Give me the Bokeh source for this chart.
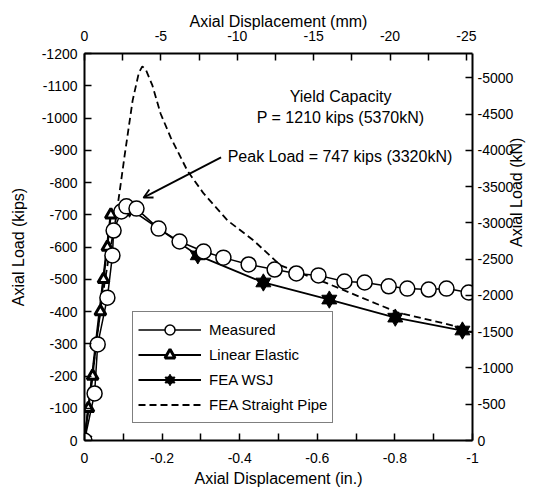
import math
from bokeh.plotting import figure
from bokeh.models import (Range1d, LinearAxis, FixedTicker, Legend, LegendItem,
                          Label, Arrow, OpenHead)
from bokeh.embed import file_html
from bokeh.resources import INLINE

# ---------------- data ----------------
meas_disp = [0, -0.026, -0.034, -0.059, -0.072, -0.075, -0.095, -0.108, -0.134, -0.191,
             -0.245, -0.307, -0.358, -0.423, -0.490, -0.546, -0.603, -0.670, -0.722,
             -0.784, -0.832, -0.887, -0.933, -0.990]
meas_load = [0, -146, -298, -443, -574, -651, -710, -726, -719, -657,
             -617, -586, -567, -546, -530, -518, -512, -493, -490,
             -478, -471, -468, -471, -459]

le_disp = [0, -0.010, -0.021, -0.030, -0.041, -0.049, -0.059, -0.068]
le_load = [0, -100, -200, -300, -400, -500, -600, -700]

wsj_disp = [0, -0.067, -0.116, -0.292, -0.461, -0.631, -0.801, -0.974, -1.0]
wsj_load = [0, -700, -719, -574, -490, -437, -381, -341, -335]
wsj_marked = [True, False, True, True, True, True, True, True, False]

pipe_disp = [0, -0.04, -0.06, -0.08, -0.095, -0.103, -0.124, -0.14, -0.149, -0.158,
             -0.175, -0.196, -0.222, -0.265, -0.307, -0.369, -0.436, -0.505,
             -0.626, -0.807, -0.99]
pipe_load = [0, -400, -550, -682, -810, -880, -1054, -1140, -1160, -1150,
             -1101, -1014, -940, -837, -766, -682, -620, -543,
             -487, -397, -345]

bottom_ticks = [0, -0.2, -0.4, -0.6, -0.8, -1.0]
bottom_labels = ["0", "-0.2", "-0.4", "-0.6", "-0.8", "-1"]
bottom_minor = [-0.1, -0.3, -0.5, -0.7, -0.9]
top_ticks = [0, -5, -10, -15, -20, -25]
top_labels = ["0", "-5", "-10", "-15", "-20", "-25"]
top_minor = [-2.5, -7.5, -12.5, -17.5, -22.5]
left_ticks = [0, -100, -200, -300, -400, -500, -600, -700, -800, -900, -1000, -1100, -1200]
left_labels = ["0", "-100", "-200", "-300", "-400", "-500", "-600", "-700", "-800",
               "-900", "-1000", "-1100", "-1200"]
right_ticks = [0, -500, -1000, -1500, -2000, -2500, -3000, -3500, -4000, -4500, -5000]
right_labels = ["0", "-500", "-1000", "-1500", "-2000", "-2500", "-3000", "-3500",
                "-4000", "-4500", "-5000"]

KIP_TO_KN = 4.448
IN_TO_MM = 25.4
X_MAX = -1.0
Y_MAX = -1200

FONT = "Liberation Sans"

p = figure(width=536, height=490, output_backend="svg", toolbar_location=None,
           x_range=Range1d(0, X_MAX), y_range=Range1d(0, Y_MAX),
           x_axis_location=None, y_axis_location=None,
           min_border_left=84, min_border_right=64, min_border_top=53, min_border_bottom=50)
p.extra_x_ranges = {"mm": Range1d(0, X_MAX * IN_TO_MM)}
p.extra_y_ranges = {"kN": Range1d(0, Y_MAX * KIP_TO_KN)}
p.xgrid.visible = False
p.ygrid.visible = False
p.outline_line_color = None
p.background_fill_color = "white"
p.border_fill_color = "white"


def style_axis(ax, ticks, labels, label_standoff, title_standoff):
    ax.major_label_overrides = {t: l for t, l in zip(ticks, labels)}
    ax.axis_line_width = 2
    ax.axis_line_color = "black"
    ax.major_tick_in = 7
    ax.major_tick_out = 0
    ax.minor_tick_in = 7
    ax.minor_tick_out = 0
    ax.major_tick_line_width = 1.5
    ax.minor_tick_line_width = 1.5
    ax.major_label_text_font = FONT
    ax.major_label_text_font_size = "14px"
    ax.major_label_text_color = "black"
    ax.major_label_standoff = label_standoff
    ax.axis_label_text_font = FONT
    ax.axis_label_text_font_size = "16px"
    ax.axis_label_text_font_style = "normal"
    ax.axis_label_text_color = "black"
    ax.axis_label_standoff = title_standoff


bx = LinearAxis(axis_label="Axial Displacement (in.)",
                ticker=FixedTicker(ticks=bottom_ticks, minor_ticks=bottom_minor))
style_axis(bx, bottom_ticks, bottom_labels, 12, 4)
p.add_layout(bx, "below")

tx = LinearAxis(axis_label="Axial Displacement (mm)", x_range_name="mm",
                ticker=FixedTicker(ticks=top_ticks, minor_ticks=top_minor))
style_axis(tx, top_ticks, top_labels, 13, -2)
p.add_layout(tx, "above")

ly = LinearAxis(axis_label="Axial Load (kips)", ticker=FixedTicker(ticks=left_ticks))
style_axis(ly, left_ticks, left_labels, 7, 12)
p.add_layout(ly, "left")

ry = LinearAxis(axis_label="Axial Load (kN)", y_range_name="kN",
                ticker=FixedTicker(ticks=right_ticks))
style_axis(ry, right_ticks, right_labels, 5, 0)
ry.axis_label_orientation = math.pi / 2
p.add_layout(ry, "right")

# ---------------- series ----------------
pipe_line = p.line(pipe_disp, pipe_load, line_color="black", line_width=1.8, line_dash="7 4")

wsj_line = p.line(wsj_disp, wsj_load, line_color="black", line_width=1.8)
wx = [d for d, m in zip(wsj_disp, wsj_marked) if m]
wy = [v for v, m in zip(wsj_load, wsj_marked) if m]
wsj_up = p.scatter(wx, wy, marker="triangle", size=15, fill_color="black", line_color="black")
wsj_dn = p.scatter(wx, wy, marker="inverted_triangle", size=15, fill_color="black", line_color="black")

le_line = p.line(le_disp, le_load, line_color="black", line_width=1.8)
le_pts = p.scatter(le_disp, le_load, marker="triangle", size=11, fill_color="white",
                   line_color="black", line_width=3)

meas_line = p.line(meas_disp, meas_load, line_color="black", line_width=1.5)
meas_pts = p.scatter(meas_disp, meas_load, marker="circle", size=15, fill_color="white",
                     line_color="black", line_width=1.5)

legend = Legend(items=[
    LegendItem(label="Measured", renderers=[meas_line, meas_pts]),
    LegendItem(label="Linear Elastic", renderers=[le_line, le_pts]),
    LegendItem(label="FEA WSJ", renderers=[wsj_line, wsj_up, wsj_dn]),
    LegendItem(label="FEA Straight Pipe", renderers=[pipe_line]),
], location=(48, 17))
legend.label_text_font = FONT
legend.label_text_font_size = "15px"
legend.label_text_color = "black"
legend.glyph_width = 63
legend.glyph_height = 25
legend.spacing = 0
legend.padding = 5
legend.margin = 0
legend.label_standoff = 8
legend.border_line_color = "black"
legend.border_line_width = 1.5
legend.background_fill_alpha = 1
p.add_layout(legend, "center")

# ---------------- annotations ----------------
ann_font = dict(text_font=FONT, text_font_size="16px", text_color="black")
p.add_layout(Label(x=-0.660, y=-1067, text="Yield Capacity", text_align="center",
                   text_baseline="middle", **ann_font))
p.add_layout(Label(x=-0.660, y=-1002, text="P = 1210 kips (5370kN)", text_align="center",
                   text_baseline="middle", **ann_font))
p.add_layout(Label(x=-0.369, y=-881, text="Peak Load = 747 kips (3320kN)", text_align="left",
                   text_baseline="middle", **ann_font))
p.add_layout(Arrow(x_start=-0.352, y_start=-878, x_end=-0.152, y_end=-753,
                   line_color="black", line_width=1.8,
                   end=OpenHead(size=9, line_width=1.8, line_color="black")))

open("out.html", "w").write(file_html(p, INLINE))
